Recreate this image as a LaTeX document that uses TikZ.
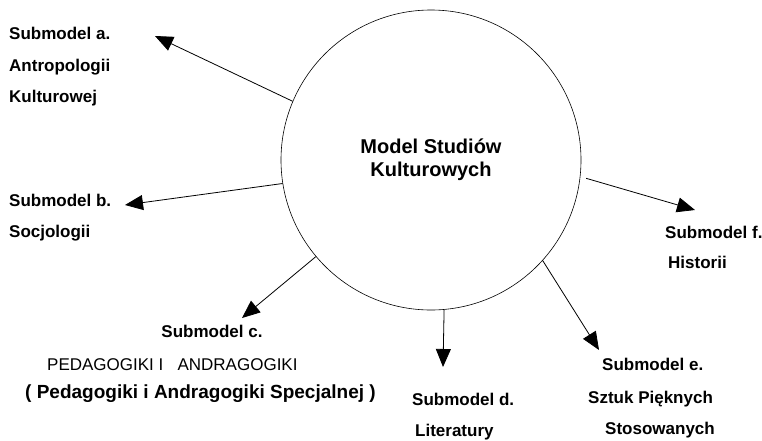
\documentclass[tikz,border=0pt]{standalone}
\usepackage{fontspec}
\setmainfont{Liberation Sans}
\usetikzlibrary{arrows.meta}
\begin{document}
\begin{tikzpicture}[x=1pt,y=-1pt,
   lbl/.style={anchor=base west,inner sep=0pt,font=\fontsize{17}{20}\selectfont\bfseries},
   arr/.style={line width=0.8pt,-{Triangle[length=18pt,width=15pt]}}]
   \useasboundingbox (0,0) rectangle (762,440);
   \node [draw,circle,line width=0.6pt,minimum size=300pt,inner sep=0pt,align=center,
          font=\fontsize{20}{23}\selectfont\bfseries] (model) at (431,160)
          {Model Studiów\\Kulturowych};
   % submodel a
   \node [lbl] (subA) at (9,39) {Submodel a.};
   \node [lbl] (subAname) at (9,71) {Antropologii};
   \node [lbl] (subAname2) at (9,102) {Kulturowej};
   % submodel b
   \node [lbl] (subB) at (9,206) {Submodel b.};
   \node [lbl] (subBname) at (9,237) {Socjologii};
   % submodel c
   \node [lbl,anchor=base] (subC) at (212,337) {Submodel c.};
   \node [lbl,font=\fontsize{17}{20}\selectfont] (subCname) at (47,370) {PEDAGOGIKI I\ \ \ ANDRAGOGIKI};
   \node [lbl,font=\fontsize{19}{22}\selectfont\bfseries] (subCname2) at (25,398) {( Pedagogiki i Andragogiki Specjalnej )};
   % submodel d
   \node [lbl] (subD) at (412,405) {Submodel d.};
   \node [lbl] (subDname) at (415,436) {Literatury};
   % submodel e
   \node [lbl] (subE) at (602,370) {Submodel e.};
   \node [lbl] (subEname) at (588,403) {Sztuk Pięknych};
   \node [lbl] (subEname2) at (605,434) {Stosowanych};
   % submodel f
   \node [lbl] (subF) at (665,238) {Submodel f.};
   \node [lbl] (subFname) at (668,268) {Historii};
   % arrow ends
   \coordinate (tipA) at (155,36);
   \coordinate (tipB) at (125,205);
   \coordinate (tipC) at (242,318);
   \coordinate (tipD) at (443,367);
   \coordinate (tipE) at (599,350);
   \coordinate (tipF) at (695,210);
   \draw [arr] (model.157) -- (tipA);
   \draw [arr] (model.189) -- (tipB);
   \draw [arr] (model.220) -- (tipC);
   \draw [arr] (model.275) -- (tipD);
   \draw [arr] (model.-42) -- (tipE);
   \draw [arr] ([shift={(6,0)}]model.-7) -- (tipF);
\end{tikzpicture}
\end{document}
